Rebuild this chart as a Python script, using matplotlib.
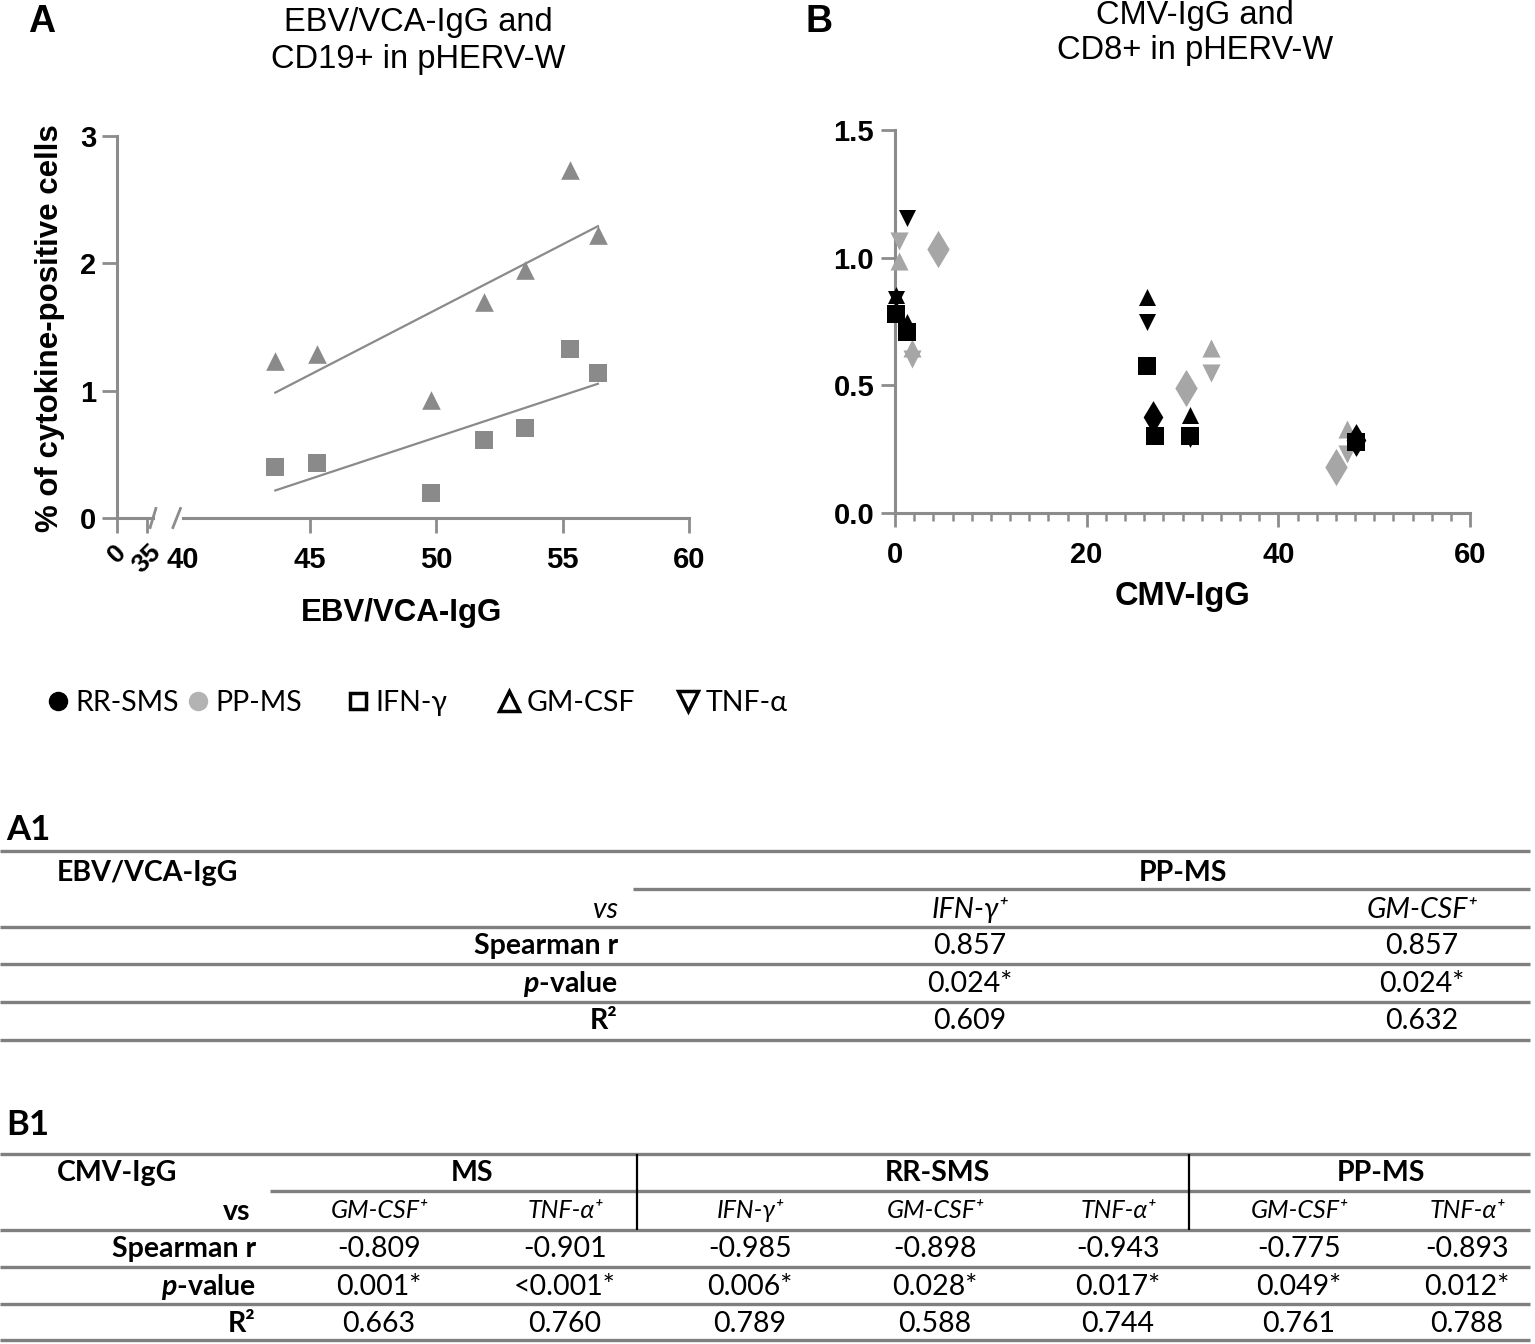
"""
   cytokine-positive CD19+/CD8+ cells vs EBV/CMV IgG in pHERV-W patients,
   two scatter panels plus the two correlation tables
"""
import matplotlib
matplotlib.use('Agg')
from matplotlib import pyplot as plt
from matplotlib.lines import Line2D
import numpy as np

plt.rcParams['mathtext.fontset'] = 'custom'
plt.rcParams['mathtext.it'] = 'Lato:italic:bold'
plt.rcParams['mathtext.rm'] = 'Lato'

# ---------------- panel A : EBV/VCA-IgG vs CD19+ (PP-MS)
ebv_igg = [43.65, 45.3, 49.8, 51.9, 53.5, 55.3, 56.4]
a_gmcsf = [1.23, 1.29, 0.93, 1.70, 1.95, 2.73, 2.22]
a_ifng = [0.40, 0.43, 0.20, 0.61, 0.71, 1.33, 1.14]

# ---------------- panel B : CMV-IgG vs CD8+
rr_ifng_x = [0.1, 1.25, 26.3, 27.1, 30.8, 48.1]
rr_ifng_y = [0.78, 0.71, 0.575, 0.30, 0.30, 0.28]
rr_gmcsf_x = [0.1, 1.25, 26.3, 30.8, 48.1]
rr_gmcsf_y = [0.855, 0.75, 0.845, 0.385, 0.31]
rr_tnfa_x = [1.25, 0.1, 26.3, 30.8, 48.1]
rr_tnfa_y = [1.155, 0.84, 0.75, 0.29, 0.27]
rr_other_x = [26.9, 48.1]
rr_other_y = [0.375, 0.285]
pp_gmcsf_x = [0.4, 1.8, 33.0, 47.2]
pp_gmcsf_y = [0.985, 0.645, 0.645, 0.33]
pp_tnfa_x = [0.4, 1.8, 33.0, 47.2]
pp_tnfa_y = [1.065, 0.605, 0.55, 0.23]
pp_other_x = [4.5, 30.4, 46.0]
pp_other_y = [1.035, 0.49, 0.18]

# ---------------- legend
legend_labels = ['RR-SMS', 'PP-MS', 'IFN-γ', 'GM-CSF', 'TNF-α']

# ---------------- tables
a1_cols = ['IFN-γ⁺', 'GM-CSF⁺']
row_names = ['Spearman r', '$p$-value', 'R²']
a1_vals = [['0.857', '0.857'], ['0.024*', '0.024*'], ['0.609', '0.632']]

b1_groups = ['MS', 'RR-SMS', 'PP-MS']
b1_cols = ['GM-CSF⁺', 'TNF-α⁺', 'IFN-γ⁺', 'GM-CSF⁺', 'TNF-α⁺', 'GM-CSF⁺', 'TNF-α⁺']
b1_spearman = ['-0.809', '-0.901', '-0.985', '-0.898', '-0.943', '-0.775', '-0.893']
b1_pval = ['0.001*', '<0.001*', '0.006*', '0.028*', '0.017*', '0.049*', '0.012*']
b1_r2 = ['0.663', '0.760', '0.789', '0.588', '0.744', '0.761', '0.788']

W, H = 1535., 1344.
AX_GREY = '#8c8c8c'
A_GREY = '#8a8a8a'
B_GREY = '#a6a6a6'
ARIAL = ['Liberation Sans', 'DejaVu Sans']
CALIBRI = ['Lato', 'DejaVu Sans']


def box(x0, y0, x1, y1):
    """pixel box (top-left origin) -> figure fraction rect"""
    return [x0 / W, 1 - y1 / H, (x1 - x0) / W, (y1 - y0) / H]


def style_axis(ax, size):
    for side in ['top', 'right']:
        ax.spines[side].set_visible(False)
    for side in ['left', 'bottom']:
        ax.spines[side].set_color(AX_GREY)
        ax.spines[side].set_linewidth(2.2)
    ax.tick_params(which='both', direction='out', color=AX_GREY, width=2.0,
                   labelsize=size)


def bold_labels(ax):
    for lab in ax.get_xticklabels(which='both') + ax.get_yticklabels():
        lab.set_family(ARIAL)
        lab.set_fontweight('bold')


fig = plt.figure(figsize=(W / 100, H / 100), dpi=100)

# ---------------- panel A, broken x axis: 0..35 stub + 40..60
axa0 = fig.add_axes(box(117, 136, 153, 518))
axa = fig.add_axes(box(183, 136, 689, 518), sharey=axa0)
axa0.set_xlim(0, 42)
axa0.set_ylim(0, 3)
style_axis(axa0, 21)
style_axis(axa, 21)
axa.spines['left'].set_visible(False)
axa.tick_params(axis='y', left=False, labelleft=False)
axa0.set_xticks([0, 35])
axa0.set_yticks([0, 1, 2, 3])
axa0.tick_params(which='major', length=11)
axa0.tick_params(axis='y', pad=4)
axa0.tick_params(axis='x', pad=5, labelsize=19)
axa.set_xlim(40, 60)
axa.set_xticks([45, 50, 55, 60])
axa.set_xticks([40], minor=True)
axa.xaxis.set_minor_formatter(matplotlib.ticker.FixedFormatter(['40']))
axa.tick_params(which='major', length=11, pad=9)
axa.tick_params(which='minor', length=0, pad=20)
bold_labels(axa0)
bold_labels(axa)
for lab in axa0.get_xticklabels():
    lab.set_rotation(45)
    lab.set_ha('center')
    lab.set_va('top')

axa.scatter(ebv_igg, a_gmcsf, marker='^', s=180, color=A_GREY, lw=0, zorder=3,
            clip_on=False)
axa.scatter(ebv_igg, a_ifng, marker='s', s=160, color=A_GREY, lw=0, zorder=3,
            clip_on=False)
xfit = np.array([min(ebv_igg), max(ebv_igg)])
for yy in [a_gmcsf, a_ifng]:
    k, b = np.polyfit(ebv_igg, yy, 1)
    axa.plot(xfit, k * xfit + b, color=A_GREY, lw=1.6, zorder=2)

# break marks
axa0.plot([0.92, 1.08], [-0.025, 0.025], transform=axa0.transAxes,
          color=AX_GREY, lw=2.0, clip_on=False)
axa.plot([-0.02, -0.005], [-0.025, 0.025], transform=axa.transAxes,
         color=AX_GREY, lw=2.0, clip_on=False)

fig.text(50 / W, 1 - 328 / H, '% of cytokine-positive cells', rotation=90,
         ha='center', va='center', family=ARIAL, weight='bold', size=22.5)
fig.text(402 / W, 1 - 613 / H, 'EBV/VCA-IgG', ha='center', va='center',
         family=ARIAL, weight='bold', size=22.5)
fig.text(418 / W, 1 - 41 / H, 'EBV/VCA-IgG and\nCD19+ in pHERV-W', ha='center',
         va='center', family=ARIAL, size=23.5, linespacing=1.25)
fig.text(28 / W, 1 - 22 / H, 'A', ha='left', va='center', family=ARIAL,
         weight='bold', size=27)

# ---------------- panel B
axb = fig.add_axes(box(895, 130, 1470, 513))
axb.set_xlim(0, 60)
axb.set_ylim(0, 1.5)
axb.set_xticks([0, 20, 40, 60])
axb.set_xticks(np.arange(0, 61, 2), minor=True)
axb.set_yticks([0, 0.5, 1.0, 1.5])
axb.set_yticklabels(['0.0', '0.5', '1.0', '1.5'])
style_axis(axb, 21)
axb.tick_params(which='major', length=10)
axb.tick_params(axis='x', which='major', pad=10)
axb.tick_params(axis='y', pad=5)
axb.tick_params(which='minor', length=6, width=1.8)
bold_labels(axb)

pp = dict(color=B_GREY, lw=0, zorder=3, clip_on=False)
rr = dict(color='black', lw=0, zorder=4, clip_on=False)
axb.scatter(pp_gmcsf_x, pp_gmcsf_y, marker='^', s=170, **pp)
axb.scatter(pp_tnfa_x, pp_tnfa_y, marker='v', s=170, **pp)
axb.scatter(pp_other_x, pp_other_y, marker='d', s=360, **pp)
axb.scatter(rr_other_x, rr_other_y, marker='d', s=280, **rr)
axb.scatter(rr_gmcsf_x, rr_gmcsf_y, marker='^', s=150, **rr)
axb.scatter(rr_tnfa_x, rr_tnfa_y, marker='v', s=150, **rr)
axb.scatter(rr_ifng_x, rr_ifng_y, marker='s', s=150, **rr)

fig.text(1183 / W, 1 - 597 / H, 'CMV-IgG', ha='center', va='center',
         family=ARIAL, weight='bold', size=23.5)
fig.text(1195 / W, 1 - 33 / H, 'CMV-IgG and\nCD8+ in pHERV-W', ha='center',
         va='center', family=ARIAL, size=23.5, linespacing=1.15)
fig.text(806 / W, 1 - 22 / H, 'B', ha='left', va='center', family=ARIAL,
         weight='bold', size=27)

# ---------------- legend, one entry per anchor to keep the uneven spacing
handles = [Line2D([], [], ls='none', marker='o', ms=13, color='black'),
           Line2D([], [], ls='none', marker='o', ms=13, color='#b3b3b3'),
           Line2D([], [], ls='none', marker='s', ms=11, mfc='white', mec='black', mew=2.5),
           Line2D([], [], ls='none', marker='^', ms=14, mfc='white', mec='black', mew=2.5),
           Line2D([], [], ls='none', marker='v', ms=14, mfc='white', mec='black', mew=2.5)]
leg_x = [44, 184, 344, 495, 674]
for h, lab, lx in zip(handles, legend_labels, leg_x):
    fig.legend([h], [lab], loc='center left', bbox_to_anchor=(lx / W, 1 - 703 / H),
               frameon=False, prop=dict(family=CALIBRI, size=20.5),
               handletextpad=0.1, handlelength=1.0, borderaxespad=0,
               borderpad=0)

# ---------------- tables, drawn in pixel coordinates
tab = fig.add_axes([0, 0, 1, 1], zorder=-1)
tab.set_xlim(0, W)
tab.set_ylim(H, 0)
tab.axis('off')
LINE = dict(color='#7f7f7f', lw=2.4)
txt = dict(family=CALIBRI, size=20.5, va='center')

tab.text(6, 830, 'A1', family=CALIBRI, size=25, weight='bold', va='center')
for y in [851, 927, 964, 1002, 1040]:
    tab.hlines(y, 0, 1530, **LINE)
tab.hlines(889, 633, 1530, **LINE)
tab.text(57, 873, 'EBV/VCA-IgG', weight='bold', ha='left', **txt)
tab.text(1183, 873, 'PP-MS', weight='bold', ha='center', **txt)
tab.text(618, 910, 'vs', style='italic', ha='right', **txt)
a1_x = [970, 1422]
for cx, name in zip(a1_x, a1_cols):
    tab.text(cx, 910, name, style='italic', ha='center', **txt)
for ry, rname, vals in zip([946, 984, 1021], row_names, a1_vals):
    tab.text(618, ry, rname, weight='bold', ha='right', **txt)
    for cx, v in zip(a1_x, vals):
        tab.text(cx, ry, v, ha='center', **txt)

tab.text(6, 1125, 'B1', family=CALIBRI, size=25, weight='bold', va='center')
for y in [1154, 1230, 1267, 1304, 1340]:
    tab.hlines(y, 0, 1530, **LINE)
tab.hlines(1191, 270, 1530, **LINE)
tab.vlines([637, 1189], 1154, 1230, color='black', lw=1.6)
tab.text(57, 1173, 'CMV-IgG', weight='bold', ha='left', **txt)
for gx, g in zip([472, 937, 1381], b1_groups):
    tab.text(gx, 1173, g, weight='bold', ha='center', **txt)
tab.text(250, 1212, 'vs', weight='bold', ha='right', **txt)
b1_x = [379, 565, 750, 935, 1118, 1299, 1467]
for cx, name in zip(b1_x, b1_cols):
    tab.text(cx, 1211, name, style='italic', ha='center', family=CALIBRI,
             size=18, va='center')
for ry, rname, vals in zip([1249, 1287, 1324], row_names,
                           [b1_spearman, b1_pval, b1_r2]):
    tab.text(256, ry, rname, weight='bold', ha='right', **txt)
    for cx, v in zip(b1_x, vals):
        tab.text(cx, ry, v, ha='center', **txt)

fig.savefig('out.png', dpi=100)
